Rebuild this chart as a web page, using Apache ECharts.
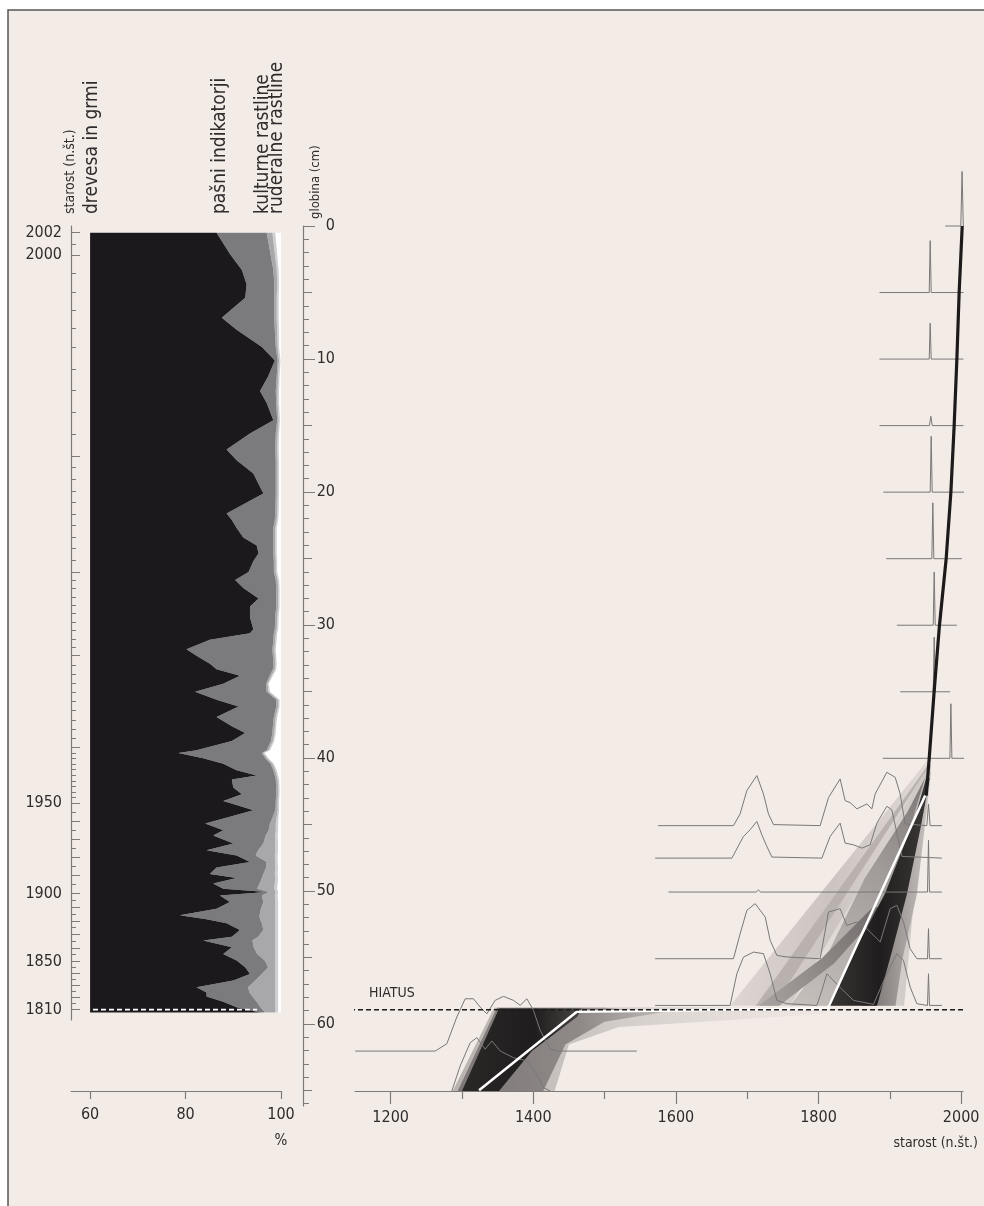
<!DOCTYPE html>
<html><head><meta charset="utf-8">
<script src="https://cdn.jsdelivr.net/npm/echarts@6/dist/echarts.min.js"></script>
<style>html,body{margin:0;padding:0;background:#fff}#c{width:984px;height:1206px}</style>
</head><body><div id="c"></div>
<script>
const FONT = "'Liberation Sans Narrow','Arial Narrow','DejaVu Sans Condensed','Liberation Sans',sans-serif";

// ---------- pollen diagram (percent) ----------
const pollenDepth = [0.5,2.1,3.3,4.4,5.4,6.9,7.8,9.1,10.1,11.3,12.4,13.3,14.6,15.6,16.8,17.6,18.6,20.1,21.6,22.1,22.7,23.4,24.0,24.6,25.2,26.0,26.6,27.2,28.0,28.6,29.4,30.3,30.6,31.1,31.8,32.3,32.9,33.3,33.8,34.4,35.0,35.6,36.1,36.9,37.6,38.1,38.7,39.4,39.6,40.0,40.4,40.9,41.3,41.6,42.2,42.7,43.2,43.5,43.9,44.4,44.9,45.4,45.8,46.4,46.9,47.3,47.8,48.2,48.7,49.0,49.4,49.8,50.05,50.3,50.8,51.3,51.8,52.1,52.4,52.9,53.4,53.7,54.2,54.7,55.2,55.7,56.2,56.7,57.2,57.6,57.9,58.3,58.7,59.1];
const trees = [86.5,89.3,91.8,92.8,92.5,87.6,90.7,96.0,98.7,97.3,95.6,97.0,98.4,93.5,88.6,90.7,94.2,96.3,88.6,89.7,90.7,92.1,94.9,95.3,94.2,93.2,90.4,92.1,95.3,93.5,93.5,94.2,93.5,85.1,80.2,82.3,85.1,86.5,91.4,87.9,82.0,86.5,91.1,86.5,89.7,92.5,89.7,82.3,78.5,83.7,87.9,90.7,94.9,89.7,90.0,91.8,87.9,90.7,94.2,89.3,84.1,87.9,85.8,90.0,84.4,90.7,93.5,86.5,85.1,90.7,85.8,87.9,97.0,87.2,89.3,86.5,78.8,84.4,88.6,91.4,89.7,83.7,89.7,87.9,90.7,92.5,93.5,90.0,82.3,84.4,84.4,87.9,90.7,95.6];
const pasture = [10.5,8.5,6.6,5.8,6.1,11.0,8.0,2.9,0.6,1.8,3.3,2.0,0.8,5.4,10.2,8.2,4.7,2.6,10.2,9.0,7.7,6.3,3.5,3.1,4.3,5.3,8.5,6.9,3.7,5.5,5.3,4.5,5.0,13.3,18.0,16.0,13.3,11.8,6.2,9.0,15.0,12.5,7.9,12.0,8.6,5.7,8.2,14.7,17.5,13.0,9.9,7.7,3.8,9.2,9.0,7.2,11.0,8.2,4.6,9.0,13.6,9.5,11.0,6.3,10.8,4.0,3.5,10.4,11.2,5.3,9.7,7.1,0.5,8.8,7.0,9.3,16.7,11.2,7.4,4.9,5.5,10.3,4.6,7.1,5.9,4.8,2.5,4.6,10.8,9.0,9.6,7.0,5.0,1.0];
const cultural = [1.2,0.9,0.7,0.6,0.5,0.5,0.5,0.4,0.3,0.3,0.4,0.3,0.3,0.4,0.4,0.4,0.4,0.4,0.4,0.4,0.4,0.4,0.4,0.4,0.4,0.4,0.4,0.4,0.4,0.4,0.4,0.4,0.4,0.4,0.4,0.4,0.4,0.4,0.4,0.3,0.4,0.4,0.4,0.4,0.4,0.4,0.4,0.4,0.3,0.4,0.4,0.4,0.4,0.4,0.4,0.4,0.4,0.4,0.5,0.8,1.2,1.5,2.0,2.5,3.6,4.0,1.8,1.9,2.4,2.8,3.2,3.6,1.4,2.7,2.5,3.0,3.3,3.2,2.8,2.5,3.6,4.8,4.5,3.8,2.2,1.5,2.8,4.2,5.7,5.4,4.8,3.9,3.1,2.2];
const ruderal = [0.6,0.5,0.4,0.4,0.4,0.4,0.4,0.3,0.3,0.3,0.3,0.3,0.3,0.3,0.3,0.3,0.3,0.3,0.3,0.3,0.3,0.3,0.3,0.3,0.3,0.3,0.3,0.3,0.3,0.3,0.3,0.3,0.3,0.3,0.3,0.3,0.3,0.3,0.3,0.2,0.3,0.3,0.3,0.3,0.3,0.3,0.3,0.3,0.2,0.3,0.3,0.3,0.3,0.3,0.3,0.3,0.3,0.3,0.3,0.4,0.5,0.5,0.5,0.6,0.6,0.6,0.5,0.6,0.6,0.6,0.6,0.6,0.5,0.6,0.6,0.6,0.6,0.6,0.6,0.6,0.6,0.6,0.6,0.6,0.6,0.6,0.6,0.6,0.6,0.6,0.6,0.6,0.6,0.6];
const pollenNames = ['drevesa in grmi','pašni indikatorji','kulturne rastline','ruderalne rastline'];
const pollenTicks = [60,80,100];

// ---------- age scale of the core (left axis) ----------
const ageCtrlAge = [2002,2000,1995,1990,1980,1970,1960,1950,1900,1850,1810];
const ageCtrlDepth = [0.5,2.2,9.1,17.3,26,32.3,39.2,43.4,50.2,55.3,58.9];
const ageLabels = [2002,2000,1950,1900,1850,1810];
const ageMajor = [2002,2000,1990,1980,1970,1960,1950,1940,1930,1920,1910,1900,1890,1880,1870,1860,1850,1840,1830,1820,1810];

// ---------- age-depth model (right panel) ----------
const hiatusDepth = 58.89;
const yearTicksMajor = [1200,1400,1600,1800,2000];
const yearTicksMinor = [1300,1500,1700,1900];
const depthLabels = [0,10,20,30,40,50,60];
const distDepth = [0,5,10,15,20,25,30,35,40,45.06,47.5,50.05,55.06,58.57,62.0,65.0];
const distYears = [
 [1977.6,1999.5,2001.3,2003.0],
 [1885.5,1955.2,1956.6,1958.0,2003.3],
 [1885.5,1955.2,1956.6,1958.0,2003.3],
 [1885.5,1955.5,1957.5,1959.5,2003.3],
 [1891,1956.6,1958,1959.4,2004.2],
 [1894.9,1958.9,1960.3,1961.7,2001],
 [1909.9,1960.8,1962.2,1963.6,1994],
 [1914.5,1960.8,1962.2,1963.6,1984.6],
 [1890.2,1984.2,1985.6,1987,2004],
 [1575,1680.7,1690,1699.5,1713.5,1722.8,1729.8,1736.8,1802.3,1814,1830.3,1837.3,1844.4,1853.8,1867.8,1874.8,1879.4,1895.8,1907.5,1914.5,1921.5,1951.9,1954.2,1956.5,1973],
 [1570.9,1678.5,1694.7,1704.1,1713.5,1720.5,1727.5,1734.6,1804.7,1816.3,1830.3,1837.3,1849,1860.8,1872.4,1881.8,1895.8,1902.8,1909.9,1916.9,1973],
 [1589.6,1712.5,1715.8,1719,1952.8,1954.2,1955.6,1973],
 [1570.9,1680.7,1690.1,1699.5,1711.1,1725.2,1732.2,1741.6,1755.6,1802.3,1814,1830.3,1839.7,1853.8,1867.8,1886.5,1900.5,1909.9,1919.1,1928.5,1937.9,1952.8,1954.2,1955.6,1973],
 [1570.9,1676,1685.5,1694.7,1708.8,1722.8,1732.2,1741.6,1755.6,1797.7,1804.7,1811.7,1830.3,1849,1877,1895.8,1909.9,1919.1,1928.5,1937.9,1952.8,1954.2,1955.6,1973],
 [1150.2,1262.4,1278.8,1292.8,1304.5,1316.1,1325.5,1334.9,1346.5,1358.2,1372.2,1381.6,1391,1400.3,1409.7,1423.7,1433.1,1545.2],
 [1285.8,1297.5,1311.5,1320.9,1332.5,1341.9,1353.6,1372.2,1391,1405,1414.3,1423.7]
];
const distHeight = [
 [0,0,4.1,0],
 [0,0,3.9,0,0],
 [0,0,2.7,0,0],
 [0,0,0.7,0,0],
 [0,0,4.2,0,0],
 [0,0,4.2,0,0],
 [0,0,4.0,0,0],
 [0,0,4.1,0,0],
 [0,0,4.1,0,0],
 [0,0,0.88,2.63,3.76,2.38,0.88,0.08,0,2.11,3.51,1.88,1.73,1.26,1.63,1.26,2.38,4.01,3.63,2.38,0.13,0,1.63,0,0],
 [0,0,1.63,2.13,2.76,1.75,0.88,0.08,0,1.63,2.63,1.13,1.0,0.75,1.0,2.63,3.89,3.63,1.88,0.13,0],
 [0,0,0.15,0,0,3.89,0,0],
 [0,0,1.88,3.63,4.14,3.14,1.38,0.25,0.13,0,3.51,3.76,2.5,2.76,2.26,1.26,3.76,4.01,2.76,0.75,0,0,2.26,0,0],
 [0,0,2.38,3.63,4.01,3.89,2.38,0.38,0.13,0,1.13,2.38,1.35,0.38,0.08,2.38,3.89,3.38,1.38,0.13,0,2.38,0,0],
 [0,0,0.55,2.56,3.93,3.93,3.31,2.8,3.81,4.11,3.81,3.44,3.93,3.06,1.56,0.15,0,0],
 [0,1.88,3.63,4.01,3.14,3.76,3.01,2.5,2.26,1.26,0.25,0]
];
const modelTopYear = [2001.5,1997.2,1994,1990.2,1985.6,1979,1969.6,1962.1,1955.2,1951];
const modelTopDepth = [0,5,10,15,20,25,30,35,40,42.8];
const meanYear = [1949.6,1813,1461,1324];
const meanDepth = [42.8,58.8,59.05,64.95];
// density envelope of the model, [year, depth] vertices
const cloudArm = [[1952,40.2],[1957,40.2],[1772,58.6],[1676,58.6]];
const cloudArmCore = [[1952.5,40.6],[1954.5,40.6],[1738,58.6],[1712,58.6]];
const cloudFan = [[1953,40.5],[1958,40.5],[1935,50],[1920,58.6],[1760,58.6],[1850,50.5]];
const cloudMid = [[1952,41.2],[1956,41.2],[1915,50.2],[1870,55],[1835,58.6],[1760,58.6],[1810,55],[1865,49],[1925,44]];
const cloudStreak = [[1876,51.2],[1892,51.2],[1822,55.4],[1745,58.6],[1716,58.6],[1805,55]];
const cloudHalo = [[1952,41],[1958,41],[1938,50.2],[1918,55],[1908,58.6],[1860,58.6],[1895,52],[1935,44]];
const cloudDark = [[1951,41.5],[1956,41.5],[1944,45],[1924,50.2],[1903,54.5],[1882,58.6],[1813,58.6],[1850,54.5],[1893,50.2],[1935,44.5]];
const cloudLowLight = [[1287,65],[1345,58.75],[1620,58.7],[1810,58.8],[1810,59.2],[1640,59.8],[1520,60.2],[1450,61.5],[1430,65]];
const cloudLowMid = [[1294,65],[1349,58.75],[1500,58.75],[1580,59.1],[1500,59.8],[1445,61.5],[1414,65]];
const cloudLowDark = [[1300,65],[1352,58.8],[1468,58.8],[1462,59.4],[1398,62],[1352,65]];

// ---------- helpers ----------
function ageToDepth(a){
  for (let i=0;i<ageCtrlAge.length-1;i++){
    const a0=ageCtrlAge[i], a1=ageCtrlAge[i+1];
    if (a<=a0 && a>=a1){ const t=(a0-a)/(a0-a1); return ageCtrlDepth[i]+t*(ageCtrlDepth[i+1]-ageCtrlDepth[i]); }
  }
  return null;
}
const ageMinor=[]; for(let a=2002;a>=1950;a--) ageMinor.push(a); for(let a=1945;a>=1810;a-=5) ageMinor.push(a);
const ageLabelDepths = ageLabels.map(ageToDepth);
const ageMajorDepths = ageMajor.map(ageToDepth);
const ageMinorDepths = ageMinor.map(ageToDepth);

const cum1 = trees.slice();
const cum2 = cum1.map((v,i)=>v+pasture[i]);
const cum3 = cum2.map((v,i)=>v+cultural[i]);
const cum4 = cum3.map((v,i)=>v+ruderal[i]);
const base = trees.map(()=>60);

const TXT='#2e2c2c', AX='#7d7b7a', BG='#f3ebe6';
const LG = echarts.graphic.LinearGradient;

const chart = echarts.init(document.getElementById('c'));

function pollenRender(params, api){
  if (params.dataIndex!==0) return;
  const n=pollenDepth.length;
  const layer=(lo,hi,color)=>{
    const pts=[];
    for(let i=0;i<n;i++) pts.push(api.coord([lo[i],pollenDepth[i]]));
    for(let i=n-1;i>=0;i--) pts.push(api.coord([hi[i],pollenDepth[i]]));
    return {type:'polygon',shape:{points:pts},style:{fill:color}};
  };
  const tl=api.coord([60,pollenDepth[0]]), br=api.coord([100,pollenDepth[n-1]]);
  return {type:'group',children:[
    {type:'rect',shape:{x:tl[0],y:tl[1],width:br[0]-tl[0],height:br[1]-tl[1]},style:{fill:'#ffffff'}},
    layer(cum3,cum4,'#cfcfd1'),
    layer(cum2,cum3,'#a8a8aa'),
    layer(cum1,cum2,'#7b7b7d'),
    layer(base,cum1,'#1b191c')
  ]};
}
function cloudRender(params, api){
  if (params.dataIndex!==0) return;
  const poly=(arr,fill,op)=>({type:'polygon',shape:{points:arr.map(p=>api.coord(p))},style:{fill:fill,opacity:op==null?1:op}});
  return {type:'group',children:[
    poly(cloudArm,new LG(0,0,1,0,[{offset:0,color:'#ddd6d3'},{offset:0.5,color:'#cbc4c1'},{offset:1,color:'#e0d9d6'}])),
    poly(cloudFan,new LG(0,0,1,0,[{offset:0,color:'#e9e2de'},{offset:1,color:'#cdc7c4'}])),
    poly(cloudArmCore,'#b8b1ae'),
    poly(cloudMid,new LG(0,1,1,0,[{offset:0,color:'#c6c0bd'},{offset:0.6,color:'#a19b99'},{offset:1,color:'#7a7574'}])),
    poly(cloudStreak,new LG(0,1,1,0,[{offset:0,color:'#a8a2a0'},{offset:1,color:'#6f6a69'}])),
    poly(cloudHalo,new LG(1,0,0,0,[{offset:0,color:'#cbc5c2'},{offset:1,color:'#6d6867'}])),
    poly(cloudDark,new LG(0,0,1,0,[{offset:0,color:'#3a3636'},{offset:0.5,color:'#1f1d1d'},{offset:1,color:'#3d3939'}])),
    poly(cloudLowLight,new LG(0,0,1,0,[{offset:0,color:'#b9b3b0'},{offset:0.35,color:'#cbc5c2'},{offset:1,color:'rgba(235,228,224,0.5)'}])),
    poly(cloudLowMid,new LG(0,0,1,0,[{offset:0,color:'#7d7877'},{offset:0.6,color:'#8f8a88'},{offset:1,color:'#bcb6b3'}])),
    poly(cloudLowDark,new LG(0,0,1,0,[{offset:0,color:'#2a2727'},{offset:0.6,color:'#1f1d1d'},{offset:1,color:'#4a4646'}]))
  ]};
}

const distSeries = distDepth.map((d,k)=>({
  type:'line', xAxisIndex:2, yAxisIndex:2, symbol:'none', silent:true, z:4, clip:false,
  lineStyle:{color:'#7a7777',width:1},
  data: distYears[k].map((y,i)=>[y, d - distHeight[k][i]])
}));

const labelFont = {color:TXT,fontSize:16,fontFamily:FONT};

const option = {
  backgroundColor:'#ffffff',
  animation:false,
  graphic:[
    {type:'rect',z:-10,shape:{x:8,y:10,width:990,height:1210},style:{fill:BG,stroke:'#555',lineWidth:1.5}},
    {type:'text',x:70,y:214,rotation:Math.PI/2,style:{text:'starost (n.št.)',font:'14px '+FONT,fill:TXT,align:'left',verticalAlign:'middle'}},
    {type:'text',x:92,y:214,rotation:Math.PI/2,style:{text:pollenNames[0],font:'19px '+FONT,fill:TXT,align:'left',verticalAlign:'middle'}},
    {type:'text',x:220,y:214,rotation:Math.PI/2,style:{text:pollenNames[1],font:'19px '+FONT,fill:TXT,align:'left',verticalAlign:'middle'}},
    {type:'text',x:263,y:214,rotation:Math.PI/2,style:{text:pollenNames[2],font:'19px '+FONT,fill:TXT,align:'left',verticalAlign:'middle'}},
    {type:'text',x:277,y:214,rotation:Math.PI/2,style:{text:pollenNames[3],font:'19px '+FONT,fill:TXT,align:'left',verticalAlign:'middle'}},
    {type:'text',x:316,y:219,rotation:Math.PI/2,style:{text:'globina (cm)',font:'13px '+FONT,fill:TXT,align:'left',verticalAlign:'middle'}},
    {type:'text',x:281,y:1141,style:{text:'%',font:'15px '+FONT,fill:TXT,align:'center',verticalAlign:'middle'}},
    {type:'text',x:978,y:1143,style:{text:'starost (n.št.)',font:'14px '+FONT,fill:TXT,align:'right',verticalAlign:'middle'}},
    {type:'text',x:369,y:993,style:{text:'HIATUS',font:'14px '+FONT,fill:TXT,align:'left',verticalAlign:'middle'}}
  ],
  grid:[
    {left:71,top:226,width:210,height:865},
    {left:71,top:226,width:210,height:794},
    {left:355,top:226,width:608,height:865},
    {left:303,top:226,width:660,height:880}
  ],
  xAxis:[
    {gridIndex:0,type:'value',min:56,max:100,position:'bottom',
     axisLine:{onZero:false,lineStyle:{color:AX,width:1.2}},
     axisTick:{length:8,customValues:pollenTicks,lineStyle:{color:AX,width:1.2}},
     axisLabel:Object.assign({customValues:pollenTicks,margin:16,formatter:v=>String(v)},labelFont),
     splitLine:{show:false}},
    {gridIndex:1,type:'value',show:false},
    {gridIndex:2,type:'value',min:1150,max:2002.6,position:'bottom',
     axisLine:{onZero:false,lineStyle:{color:AX,width:1.2}},
     axisTick:{length:13,customValues:yearTicksMajor,lineStyle:{color:AX,width:1.2}},
     axisLabel:Object.assign({customValues:yearTicksMajor,margin:19,formatter:v=>String(v)},labelFont),
     splitLine:{show:false}},
    {gridIndex:3,type:'value',show:false},
    {gridIndex:2,type:'value',min:1150,max:2002.6,position:'bottom',
     axisLine:{show:false,onZero:false},
     axisTick:{length:8,customValues:yearTicksMinor,lineStyle:{color:AX,width:1.2}},
     axisLabel:{show:false},splitLine:{show:false}}
  ],
  yAxis:[
    {gridIndex:0,type:'value',min:0,max:65,inverse:true,show:false},
    {gridIndex:1,type:'value',min:0,max:59.7,inverse:true,position:'left',
     axisLine:{show:true,onZero:false,lineStyle:{color:AX,width:1.2}},
     axisTick:{show:true,inside:true,length:9,customValues:ageMajorDepths,lineStyle:{color:AX,width:1}},
     axisLabel:Object.assign({customValues:ageLabelDepths,margin:9,
       formatter:v=>{const i=ageLabelDepths.findIndex(d=>Math.abs(d-v)<1e-6);return i>=0?String(ageLabels[i]):'';}},labelFont),
     splitLine:{show:false}},
    {gridIndex:2,type:'value',min:0,max:65,inverse:true,show:false},
    {gridIndex:3,type:'value',min:0,max:66.17,inverse:true,position:'left',
     axisLine:{show:true,onZero:false,lineStyle:{color:AX,width:1.2}},
     axisTick:{show:true,inside:true,length:12,customValues:depthLabels,lineStyle:{color:AX,width:1}},
     axisLabel:Object.assign({inside:true,customValues:depthLabels,align:'right',margin:32,formatter:v=>String(v)},labelFont),
     splitLine:{show:false}},
    {gridIndex:3,type:'value',min:0,max:66.17,inverse:true,position:'left',
     axisLine:{show:false,onZero:false},
     axisTick:{show:true,inside:true,length:9,customValues:[5,15,25,35,45,55,65],lineStyle:{color:AX,width:1}},
     axisLabel:{show:false},splitLine:{show:false}},
    {gridIndex:3,type:'value',min:0,max:66.17,inverse:true,position:'left',
     axisLine:{show:false,onZero:false},
     axisTick:{show:true,inside:true,length:6,customValues:Array.from({length:67},(_,i)=>i),lineStyle:{color:AX,width:1}},
     axisLabel:{show:false},splitLine:{show:false}},
    {gridIndex:1,type:'value',min:0,max:59.7,inverse:true,position:'left',
     axisLine:{show:false,onZero:false},
     axisTick:{show:true,inside:true,length:5,customValues:ageMinorDepths,lineStyle:{color:AX,width:1}},
     axisLabel:{show:false},splitLine:{show:false}}
  ],
  series:[
    {type:'custom',xAxisIndex:0,yAxisIndex:0,renderItem:pollenRender,data:[[60,0]],silent:true,z:2},
    {type:'custom',xAxisIndex:2,yAxisIndex:2,renderItem:cloudRender,data:[[1500,50]],silent:true,z:2},
    ...distSeries,
    {type:'line',xAxisIndex:2,yAxisIndex:2,symbol:'none',silent:true,z:5,
     lineStyle:{color:'#1c1a1a',width:3.2},
     data:modelTopYear.map((y,i)=>[y,modelTopDepth[i]])},
    {type:'line',xAxisIndex:2,yAxisIndex:2,symbol:'none',silent:true,z:6,
     lineStyle:{color:'#ffffff',width:2.5},
     data:meanYear.map((y,i)=>[y,meanDepth[i]])},
    {type:'line',xAxisIndex:2,yAxisIndex:2,symbol:'none',silent:true,z:7,clip:false,
     lineStyle:{color:'#1c1a1a',width:1.6,type:[5,3]},
     data:[[761.6,hiatusDepth],[2034,hiatusDepth]]},
    {type:'line',xAxisIndex:0,yAxisIndex:0,symbol:'none',silent:true,z:8,
     lineStyle:{color:'#ffffff',width:1.8,type:[5,3]},
     data:[[60.6,hiatusDepth],[95.0,hiatusDepth]]}
  ]
};
chart.setOption(option);
</script></body></html>
